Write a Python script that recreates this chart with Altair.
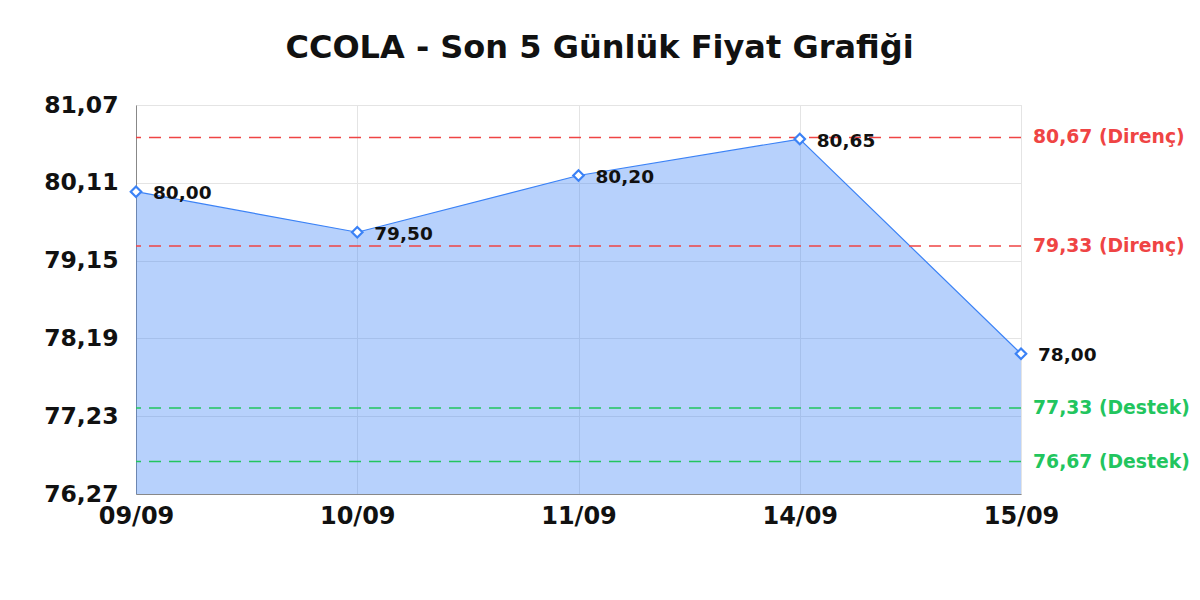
import altair as alt
import pandas as pd

dates = ["09/09", "10/09", "11/09", "14/09", "15/09"]
prices = [80.00, 79.50, 80.20, 80.65, 78.00]
levels = [80.67, 79.33, 77.33, 76.67]
level_types = ["Direnç", "Direnç", "Destek", "Destek"]
level_colors = ["#ef4444", "#ef4444", "#22c55e", "#22c55e"]
y_ticks = [76.27, 77.23, 78.19, 79.15, 80.11, 81.07]
y_min, y_max = 76.27, 81.07

FONT = "DejaVu Sans"
BLUE = "#3b82f6"

df = pd.DataFrame({
    "date": dates,
    "price": prices,
    "label": [f"{p:.2f}".replace(".", ",") for p in prices],
    "base": [y_min] * len(dates),
})
lv = pd.DataFrame({
    "level": levels,
    "kind": level_types,
    "color": level_colors,
    "date": [dates[-1]] * len(levels),
    "label": [f"{v:.2f}".replace(".", ",") + f" ({k})" for v, k in zip(levels, level_types)],
})

x_enc = alt.X("date:N", sort=dates, scale=alt.Scale(type="point", padding=0),
              axis=alt.Axis(title=None, labelAngle=0, labelFontSize=24, labelFontWeight="bold",
                            labelFont=FONT, labelColor="#111", ticks=False, domainColor="#888",
                            labelPadding=10, grid=True, gridColor="#e4e4e4"))
y_scale = alt.Scale(domain=[y_min, y_max], zero=False, nice=False)
y_enc = alt.Y("price:Q", scale=y_scale,
              axis=alt.Axis(title=None, values=y_ticks, labelFontSize=23.5, labelFontWeight="bold",
                            labelFont=FONT, labelColor="#111", ticks=False, domainColor="#888",
                            labelPadding=18, gridColor="#e4e4e4",
                            labelExpr="replace(format(datum.value, '.2f'), '.', ',')"))

base = alt.Chart(df)
area = base.mark_area(color=BLUE, opacity=0.37).encode(x=x_enc, y=y_enc, y2="base:Q")
line = base.mark_line(color=BLUE, strokeWidth=1.2).encode(x=x_enc, y=y_enc)
pts = base.mark_point(shape="diamond", size=110, filled=True, fill="white", stroke=BLUE,
                      strokeWidth=2.2, opacity=1).encode(x=x_enc, y=y_enc)
labels = base.mark_text(align="left", baseline="middle", dx=17, dy=1.5, fontSize=18.5,
                        fontWeight="bold", font=FONT, color="#111").encode(
    x=x_enc, y=y_enc, text="label:N")

rules = alt.Chart(lv).mark_rule(strokeDash=[12, 8], strokeDashOffset=0, strokeWidth=1.5).encode(
    y=alt.Y("level:Q", scale=y_scale),
    color=alt.Color("color:N", scale=None))
rlabels = alt.Chart(lv).mark_text(align="left", baseline="middle", dx=12, fontSize=18.8,
                                  fontWeight="bold", font=FONT).encode(
    x=alt.X("date:N", sort=dates, scale=alt.Scale(type="point", padding=0)),
    y=alt.Y("level:Q", scale=y_scale),
    text="label:N",
    color=alt.Color("color:N", scale=None))

chart = alt.layer(area, line, rules, pts, labels, rlabels).properties(
    width=885, height=389,
    autosize=alt.AutoSizeParams(type="none"),
    padding={"left": 128, "top": 97, "right": 171, "bottom": 98},
    title=alt.TitleParams("CCOLA - Son 5 Günlük Fiyat Grafiği", font=FONT, fontSize=32,
                          fontWeight="bold", color="#111", anchor="middle", frame="group",
                          dx=21, offset=3, baseline="alphabetic"),
).configure_view(stroke="#e4e4e4", strokeWidth=1).configure(background="white")

chart.save("out.html", embed_options={"renderer": "svg", "actions": False})
